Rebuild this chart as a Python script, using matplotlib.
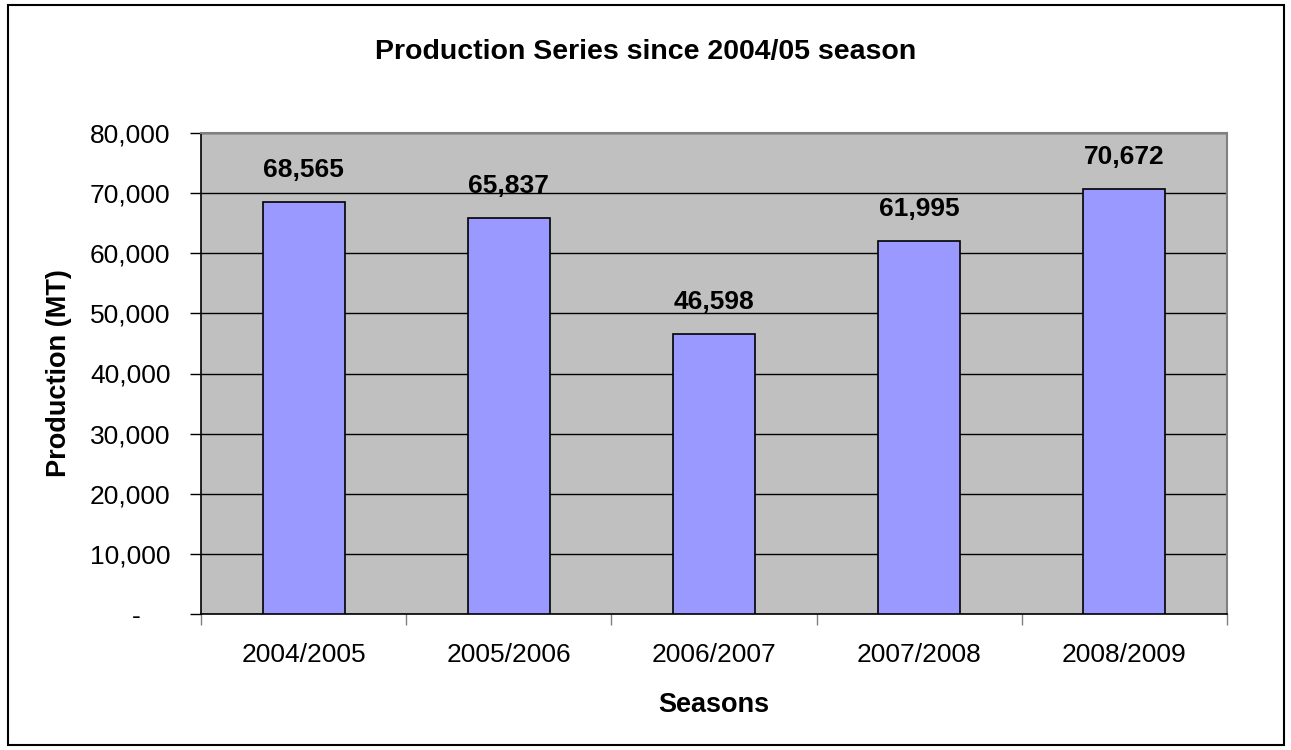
import matplotlib.pyplot as plt
from matplotlib.patches import Rectangle

plt.rcParams['font.family'] = ['Liberation Sans', 'DejaVu Sans']

seasons = ['2004/2005', '2005/2006', '2006/2007', '2007/2008', '2008/2009']
production = [68565, 65837, 46598, 61995, 70672]
yticks = [0, 10000, 20000, 30000, 40000, 50000, 60000, 70000, 80000]

fig = plt.figure(figsize=(12.91, 7.5), dpi=100)
fig.patches.append(Rectangle((8 / 1291, 5 / 750), 1276 / 1291, 740 / 750,
                             transform=fig.transFigure, fill=False,
                             edgecolor='black', linewidth=1.5))

ax = fig.add_axes([201 / 1291, 1 - 614 / 750, 1026 / 1291, 481 / 750])
ax.set_facecolor('#C0C0C0')

x = list(range(len(seasons)))
ax.bar(x, production, width=0.4, color='#9999FF', edgecolor='black', linewidth=1.2, zorder=3)
for xi, v in zip(x, production):
    ax.text(xi, v + 3300, f'{v:,}', ha='center', va='bottom',
            fontsize=19, fontweight='bold', zorder=4)

ax.set_xlim(-0.5, len(seasons) - 0.5)
ax.set_ylim(0, 80000)
ax.set_yticks(yticks)
ax.set_yticklabels(['-    ' if t == 0 else f'{t:,}' for t in yticks])
ax.yaxis.grid(True, color='black', linewidth=1)
ax.set_axisbelow(True)

ax.set_xticks([i - 0.5 for i in range(len(seasons) + 1)])
ax.set_xticklabels([])
ax.set_xticks(x, minor=True)
ax.set_xticklabels(seasons, minor=True)
ax.tick_params(axis='x', which='minor', length=0, pad=21, labelsize=19)
ax.tick_params(axis='x', which='major', length=8, width=1, color='#808080', direction='out')
ax.tick_params(axis='y', length=8, width=1, direction='out', pad=14, labelsize=19)

for s in ['top', 'right']:
    ax.spines[s].set_color('#808080')
    ax.spines[s].set_linewidth(1.5)
for s in ['left', 'bottom']:
    ax.spines[s].set_color('black')
    ax.spines[s].set_linewidth(1.2)

ax.set_xlabel('Seasons', fontsize=19.5, fontweight='bold', labelpad=18)
ax.set_ylabel('Production (MT)', fontsize=19.5, fontweight='bold', labelpad=13)
fig.text(0.5, 1 - 52 / 750, 'Production Series since 2004/05 season',
         ha='center', va='center', fontsize=20.5, fontweight='bold')

fig.savefig('out.png', dpi=100)
